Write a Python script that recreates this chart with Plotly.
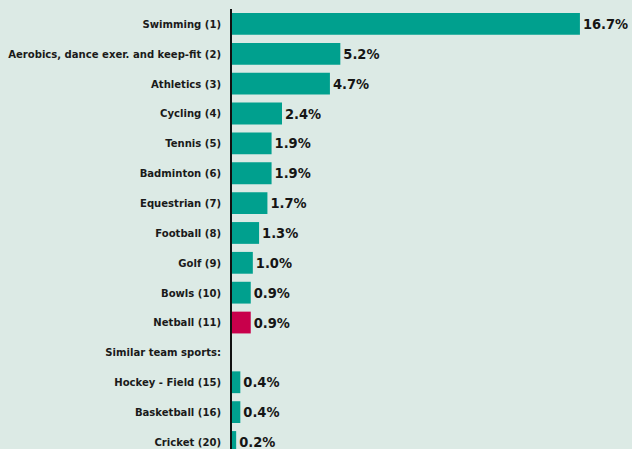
import plotly.graph_objects as go

sports = [
    "Swimming (1)",
    "Aerobics, dance exer. and keep-fit (2)",
    "Athletics (3)",
    "Cycling (4)",
    "Tennis (5)",
    "Badminton (6)",
    "Equestrian (7)",
    "Football (8)",
    "Golf (9)",
    "Bowls (10)",
    "Netball (11)",
    "Similar team sports:",
    "Hockey - Field (15)",
    "Basketball (16)",
    "Cricket (20)",
]
share = [16.7, 5.2, 4.7, 2.4, 1.9, 1.9, 1.7, 1.3, 1.0, 0.9, 0.9, None, 0.4, 0.4, 0.2]
highlight = "Netball (11)"

TEAL = "#00a08e"
RED = "#c8004b"
BG = "#dceae5"
FONT = "DejaVu Sans Condensed, Liberation Sans Narrow, Arial Narrow, sans-serif"

colors = [RED if s == highlight else TEAL for s in sports]
labels = ["" if v is None else f"{v:.1f}%" for v in share]

fig = go.Figure(
    go.Bar(
        x=share,
        y=sports,
        orientation="h",
        marker_color=colors,
        marker_line_width=0,
        width=0.73,
        text=labels,
        textposition="outside",
        cliponaxis=False,
        textfont=dict(family=FONT, size=14.5, color="#151515", weight="bold"),
    )
)

fig.update_layout(
    width=632,
    height=449,
    margin=dict(l=232, r=0, t=9, b=0),
    paper_bgcolor=BG,
    plot_bgcolor=BG,
    showlegend=False,
    xaxis=dict(range=[0, 19.2], visible=False, fixedrange=True),
    yaxis=dict(
        type="category",
        range=[14.235, -0.5],
        showline=True,
        linecolor="#111111",
        linewidth=1.5,
        showgrid=False,
        ticks="",
        ticklabelstandoff=7,
        fixedrange=True,
        tickfont=dict(family=FONT, size=11.2, color="#1a1a1a", weight="bold"),
    ),
)

fig.write_html(
    "out.html",
    config={"displayModeBar": False},
    post_script="document.body.style.margin='0';",
)
